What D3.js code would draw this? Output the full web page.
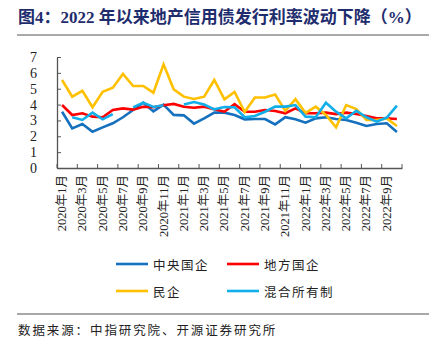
<!DOCTYPE html>
<html><head><meta charset="utf-8">
<script src="https://cdn.jsdelivr.net/npm/d3@7/dist/d3.min.js"></script>
<style>body{margin:0;background:#fff}svg{display:block}</style>
</head><body><svg id="c" width="446" height="350"></svg>
<script>
const categories = [];
for (let y = 2020; y <= 2022; y++) for (let m = 1; m <= 12; m++) { if (y === 2022 && m > 10) break; categories.push(y + "年" + m + "月"); }
const tickLabels = categories.filter((d, i) => i % 2 === 0);
const yTicks = [0,1,2,3,4,5,6,7];
const central = [3.55,2.5,2.77,2.29,2.56,2.82,3.2,3.66,4.12,3.57,4.0,3.35,3.32,2.8,3.13,3.49,3.49,3.34,3.07,3.09,3.09,2.75,3.2,3.07,2.86,3.13,3.2,3.09,3.03,2.86,2.65,2.77,2.82,2.27];
const local = [3.97,3.34,3.45,3.24,3.2,3.66,3.76,3.68,3.86,3.83,3.96,4.04,3.86,3.8,3.87,3.7,3.55,4.03,3.55,3.55,3.66,3.6,3.45,3.76,3.45,3.45,3.49,3.4,3.49,3.4,3.28,3.13,3.13,3.09];
const privateE = [5.55,4.5,4.87,3.83,4.81,5.06,5.93,5.17,5.17,4.75,6.54,4.96,4.5,4.35,4.5,5.55,4.33,4.8,3.53,4.45,4.45,4.63,3.6,4.34,3.47,3.87,3.34,2.56,3.97,3.72,3.03,3.03,3.13,2.65];
const mixed = [null,3.2,3.03,3.49,3.07,3.4,null,3.82,4.12,3.85,3.96,null,4.0,4.16,4.0,3.7,3.85,3.83,3.2,3.28,3.55,3.87,3.87,3.97,3.24,3.2,4.12,3.55,3.13,3.61,3.2,2.92,3.18,3.93];
const seriesNames = ["中央国企","地方国企","民企","混合所有制"];
const seriesColors = ["#1570BE","#FF0000","#FFC000","#12AEEA"];
const seriesData = [central, local, privateE, mixed];

const svg = d3.select("#c");
const serif = "'Liberation Serif','Times New Roman','Noto Sans CJK SC',serif";
const cjk = "'Noto Sans CJK SC','Noto Sans',sans-serif";

// title
svg.append("text").attr("x", 18).attr("y", 23)
  .attr("font-family", serif).attr("font-weight", "bold").attr("font-size", 17)
  .attr("fill", "#1F2D6E").text("图4：2022 年以来地产信用债发行利率波动下降（%）");
svg.append("line").attr("x1", 17).attr("x2", 429).attr("y1", 35).attr("y2", 35)
  .attr("stroke", "#8c8c8c").attr("stroke-width", 1.5);

const x = d3.scaleBand().domain(categories).range([57, 402]).paddingInner(0).paddingOuter(0);
const y = d3.scaleLinear().domain([0, 7]).range([168, 57]);
const cx = d => x(d) + x.bandwidth() / 2;

// y axis
const ya = svg.append("g").attr("transform", "translate(57,0)")
  .call(d3.axisLeft(y).tickValues(yTicks).tickSize(-4).tickSizeOuter(0).tickPadding(20).tickFormat(d3.format("d")));
ya.select(".domain").attr("stroke", "#555").attr("stroke-width", 1.3);
ya.selectAll(".tick line").attr("stroke", "#555");
ya.selectAll("text").attr("font-family", serif).attr("font-size", 14).attr("fill", "#222");

// x axis
const xa = svg.append("g").attr("transform", "translate(0,168)")
  .call(d3.axisBottom(x).tickValues([]).tickSizeOuter(0));
xa.select(".domain").attr("stroke", "#555").attr("stroke-width", 1.3);
const tickPos = categories.filter((d, i) => i % 2 === 0).map(d => x(d)).concat([x.range()[1]]);
svg.append("g").selectAll("line").data(tickPos).join("line")
  .attr("x1", d => d).attr("x2", d => d).attr("y1", 168).attr("y2", 164)
  .attr("stroke", "#555").attr("stroke-width", 1);
svg.append("g").selectAll("text").data(tickLabels).join("text")
  .attr("transform", d => `translate(${cx(d)},175) rotate(-90)`)
  .attr("text-anchor", "end").attr("dominant-baseline", "central")
  .attr("font-family", serif).attr("font-size", 12.5).attr("fill", "#222")
  .text(d => d);

// lines
const line = d3.line().defined(d => d.v != null).x(d => cx(d.c)).y(d => y(d.v));
seriesData.forEach((s, k) => {
  svg.append("path").datum(s.map((v, i) => ({c: categories[i], v})))
    .attr("d", line).attr("fill", "none").attr("stroke", seriesColors[k])
    .attr("stroke-width", 2.6).attr("stroke-linejoin", "miter");
});

// legend
const legPos = [[116,264],[227,264],[116,291],[227,291]];
seriesNames.forEach((n, k) => {
  const [lx, ly] = legPos[k];
  svg.append("line").attr("x1", lx).attr("x2", lx + 32).attr("y1", ly).attr("y2", ly)
    .attr("stroke", seriesColors[k]).attr("stroke-width", 2.6);
  svg.append("text").attr("x", lx + 37).attr("y", ly).attr("dominant-baseline", "central")
    .attr("font-family", cjk).attr("font-size", 12.5).attr("letter-spacing", 1.5)
    .attr("fill", "#222").text(n);
});

svg.append("line").attr("x1", 17).attr("x2", 429).attr("y1", 314).attr("y2", 314)
  .attr("stroke", "#8c8c8c").attr("stroke-width", 1.5);
svg.append("text").attr("x", 18).attr("y", 329).attr("dominant-baseline", "central")
  .attr("font-family", cjk).attr("font-size", 12.5).attr("letter-spacing", 1.9)
  .attr("fill", "#222").text("数据来源：中指研究院、开源证券研究所");
</script></body></html>
